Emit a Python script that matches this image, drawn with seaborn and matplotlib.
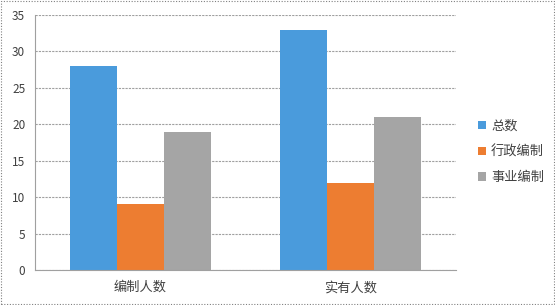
import matplotlib
matplotlib.use("Agg")
import matplotlib.pyplot as plt
import seaborn as sns
import pandas as pd
from matplotlib.patches import Rectangle

categories = ["编制人数", "实有人数"]
series = ["总数", "行政编制", "事业编制"]
total = [28, 33]
admin = [9, 12]
public = [19, 21]
yticks = [0, 5, 10, 15, 20, 25, 30, 35]
colors = ["#4A9BDC", "#ED7D31", "#A5A5A5"]

rows = []
for s, vals in zip(series, [total, admin, public]):
    for c, v in zip(categories, vals):
        rows.append({"cat": c, "series": s, "value": v})
df = pd.DataFrame(rows)

sns.set_style("white")
plt.rcParams['font.family'] = ['Noto Sans CJK SC', 'DejaVu Sans']

fig = plt.figure(figsize=(5.55, 3.05), dpi=100)
ax = fig.add_axes([35/555, 1-270/305, (456-35)/555, (270-15)/305])
sns.barplot(data=df, x="cat", y="value", hue="series", hue_order=series,
            palette=colors, width=0.67, ax=ax, saturation=1, legend=True,
            linewidth=0, edgecolor="none")
ax.set_xlim(-0.5, 1.5)
ax.set_ylim(0, 35)
ax.set_yticks(yticks)
ax.yaxis.grid(True, color="#A0A0A0", linestyle=(0, (2, 1)), linewidth=0.8)
ax.set_axisbelow(True)
for sp in ["top", "right"]:
    ax.spines[sp].set_visible(False)
ax.spines["left"].set_color("#A0A0A0")
ax.spines["bottom"].set_color("#A0A0A0")
ax.spines["left"].set_linestyle((0, (2, 1)))
ax.spines["bottom"].set_linestyle((0, (2, 1)))
ax.tick_params(axis="y", length=4, color="#A0A0A0", labelsize=8.5, labelcolor="#404040", pad=3)
ax.tick_params(axis="x", which="major", length=0, labelsize=9.5, labelcolor="#404040", pad=8)
ax.set_xticks([-0.5, 0.5, 1.5], minor=True)
ax.tick_params(axis="x", which="minor", length=4, color="#A0A0A0")
ax.set_xlabel("")
ax.set_ylabel("")

leg = ax.legend(loc="center left", bbox_to_anchor=(466/555, 1-152/305),
                bbox_transform=fig.transFigure, frameon=False,
                handlelength=0.6, handleheight=0.6, handletextpad=0.4,
                labelspacing=0.95, fontsize=9.5)
for t in leg.get_texts():
    t.set_color("#404040")

fig.patches.append(Rectangle((0.001, 0.002), 0.997, 0.995, transform=fig.transFigure,
                             fill=False, edgecolor="#808080", linestyle=(0, (1, 1.5)),
                             linewidth=0.8))
fig.savefig("out.png", dpi=100)
